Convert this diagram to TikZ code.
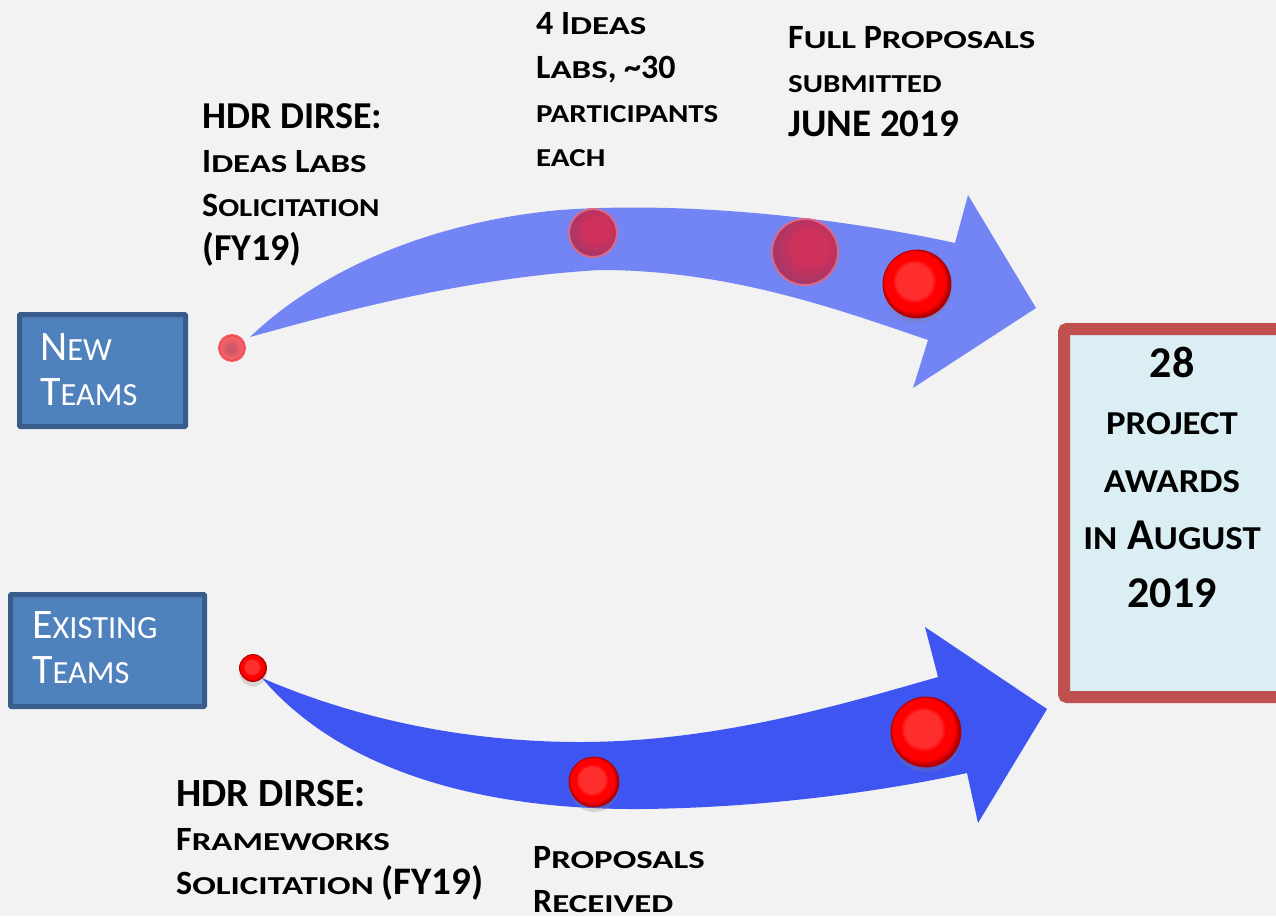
\documentclass[tikz,border=0pt]{standalone}
\usepackage{fontspec}
\setmainfont{Carlito}
\newfontfamily\widesc{Carlito}[FakeStretch=1.35]
\newfontfamily\narsc{Carlito}[FakeStretch=1.2]
\newfontfamily\midsc{Carlito}[FakeStretch=1.1]
\usetikzlibrary{shadows}

\makeatletter
\newcommand\lcsize[1]{\fontsize{\the\dimexpr#1\dimexpr\f@size pt\relax\relax}{\f@baselineskip}\selectfont}
\makeatother
\newcommand\lcw[1]{{\widesc\lcsize{.76}#1}}
\newcommand\lcv[1]{{\narsc\lcsize{.76}#1}}
\newcommand\lcm[1]{{\midsc\lcsize{.76}#1}}
\newcommand\lcn[1]{{\lcsize{.77}#1}}

\definecolor{bgcol}{HTML}{F2F2F2}
\definecolor{teamfill}{HTML}{4F81BD}
\definecolor{teamedge}{HTML}{385D8A}
\definecolor{awardfill}{HTML}{DAEEF3}
\definecolor{awardedge}{HTML}{C0504D}
\definecolor{arrowlite}{HTML}{7384F5}
\definecolor{arrowdeep}{HTML}{3F55F2}
\definecolor{cellred}{HTML}{FF0000}
\definecolor{cellhi}{HTML}{FF2E2E}
\definecolor{cellrim}{HTML}{B00000}
\definecolor{cellcrim}{HTML}{D52A4F}
\definecolor{cellplum}{HTML}{983462}
\definecolor{cellcoral}{HTML}{F2474F}
\definecolor{cellrose}{HTML}{C8404F}

\pgfdeclareradialshading{redshade}{\pgfpoint{-3bp}{3bp}}{color(0bp)=(cellhi); color(13bp)=(cellhi); color(16bp)=(cellred); color(22bp)=(cellred); color(25bp)=(cellrim); color(50bp)=(cellrim)}
\pgfdeclareradialshading{plumshade}{\pgfpoint{5bp}{5bp}}{color(0bp)=(cellcrim); color(14bp)=(cellcrim); color(32bp)=(cellplum); color(50bp)=(cellplum)}
\pgfdeclareradialshading{coralshade}{\pgfpoint{-3bp}{-2bp}}{color(0bp)=(cellrose); color(8bp)=(cellrose); color(18bp)=(cellcoral); color(50bp)=(cellcoral)}

\tikzset{
	teambox/.style={
		draw=teamedge,
		line width=5pt,
		fill=teamfill,
		rounded corners=1pt
	},
	teamtxt/.style={
		text=white,
		font=\fontsize{42}{45}\selectfont,
		align=left,
		anchor=base west,
		inner sep=0pt
	},
	lbl/.style={
		font=\bfseries\fontsize{34}{44}\selectfont,
		align=left,
		anchor=base west,
		inner sep=0pt
	},
	awardbox/.style={
		draw=awardedge,
		line width=12pt,
		fill=awardfill,
		rounded corners=3pt
	},
	fadecell/.style={
		circle,
		inner sep=0pt,
		shade,
		shading=plumshade,
		draw=cellcrim!70,
		draw opacity=.4,
		line width=2pt,
		opacity=.92
	},
	redcell/.style={
		circle,
		inner sep=0pt,
		shade,
		shading=redshade,
		draw=cellrim,
		line width=.8pt,
		drop shadow={shadow xshift=0pt, shadow yshift=-5pt, opacity=.25}
	}
}

\begin{document}
\begin{tikzpicture}[x=1pt, y=-1pt]
\useasboundingbox (0,0) rectangle (1276,916);
\clip (0,0) rectangle (1276,916);
\fill[bgcol] (0,0) rectangle (1276,916);

% the two curved arrows
\fill[arrowlite] (250,337) .. controls (320,270) and (430,222) .. (560,210)
	.. controls (700,200) and (860,222) .. (955,243) -- (968,195) -- (1036,308)
	-- (913,388) -- (928,340) .. controls (840,310) and (730,270) .. (600,270)
	.. controls (460,278) and (330,315) .. cycle;
\fill[arrowdeep] (262,678) .. controls (340,712) and (450,742) .. (580,742)
	.. controls (720,742) and (850,702) .. (938,677) -- (925,627) -- (1047,709)
	-- (978,823) -- (967,773) .. controls (880,792) and (760,808) .. (640,809)
	.. controls (480,810) and (340,770) .. cycle;

% milestones
\node[fadecell, shading=coralshade, draw=cellcoral, minimum size=26, opacity=.85] (n0) at (232,348) {};
\node[fadecell, minimum size=48] (n1) at (593,233) {};
\node[fadecell, minimum size=66] (n2) at (805,252) {};
\node[redcell, minimum size=68] (n3) at (917,284) {};
\node[redcell, minimum size=27] (e0) at (253,668) {};
\node[redcell, minimum size=50] (e1) at (594,782) {};
\node[redcell, minimum size=70] (e2) at (926,732) {};

% team boxes
\node[teambox, minimum width=166, minimum height=112] (newbox) at (102.5,370.5) {};
\node[teamtxt] (newtxt) at (40,405) {N\lcn{EW}\\T\lcn{EAMS}};
\node[teambox, minimum width=194, minimum height=112] (oldbox) at (107.5,650.5) {};
\node[teamtxt] (oldtxt) at (32,683) {E\lcn{XISTING}\\T\lcn{EAMS}};

% awards
\node[awardbox, minimum width=232, minimum height=368, anchor=north west] (awards) at (1058,323) {};
\node[font=\bfseries\fontsize{44}{57.5}\selectfont, align=center, anchor=base, inner sep=0pt] (awardtxt) at (1172,607)
	{28\\ \lcm{PROJECT}\\ \lcm{AWARDS}\\ \lcm{IN} A\lcm{UGUST}\\ 2019};

% labels
\node[lbl] (ideasol) at (202,260) {{\fontsize{38}{44}\selectfont HDR DIRSE:}\\ I\lcw{DEAS} L\lcw{ABS}\\ S\lcv{OLICITATION}\\ {\fontsize{38}{44}\selectfont (FY19)}};
\node[lbl] (ideaslab) at (536,166) {4 I\lcw{DEAS}\\ L\lcw{ABS}, \textasciitilde30\\ \lcv{PARTICIPANTS}\\ \lcv{EACH}};
\node[lbl] (fullprop) at (788,136) {F\lcw{ULL} P\lcw{ROPOSALS}\\ \lcv{SUBMITTED}\\ {\fontsize{39}{44}\selectfont JUNE 2019}};
\node[lbl] (framesol) at (176,894) {{\fontsize{40}{45}\selectfont HDR DIRSE:}\\ F\lcw{RAMEWORKS}\\ S\lcw{OLICITATION} {\fontsize{39}{44}\selectfont (FY19)}};
\node[lbl] (received) at (533,912) {P\lcw{ROPOSALS}\\ R\lcw{ECEIVED}};
\end{tikzpicture}
\end{document}
